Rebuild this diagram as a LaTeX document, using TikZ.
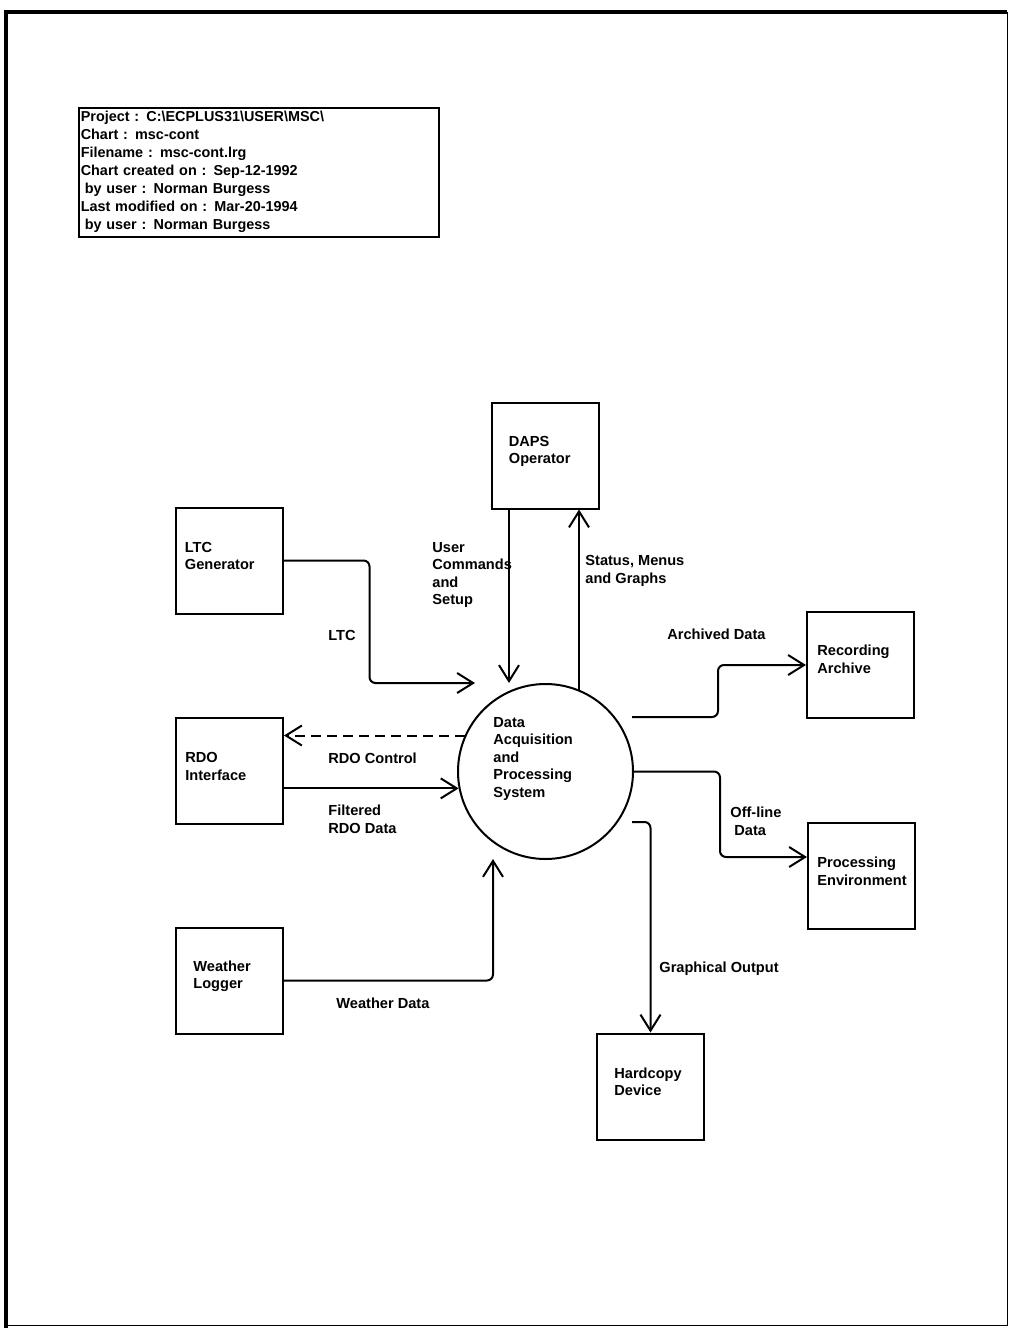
\documentclass[tikz,border=0pt]{standalone}
\usepackage{fontspec}
\setmainfont{Liberation Sans}
\usetikzlibrary{calc,positioning,arrows.meta}
\tikzstyle{ent}=[draw, line width=1pt, minimum width=53.5pt, minimum height=53pt, inner sep=0pt]
\tikzstyle{lbl}=[font=\bfseries\fontsize{7.3}{8.75}\selectfont, align=left, inner sep=0pt, anchor=north west]
\tikzstyle{flow}=[line width=1pt, rounded corners=3pt, -{Straight Barb[length=8pt,width=10pt]}]

\begin{document}
\begin{tikzpicture}[x=0.5pt,y=-0.5pt]
	\useasboundingbox (0,0) rectangle (1009,1328);
	% page frame
	\draw[line width=1.8pt] (6,1328) -- (6,12) -- (1007,12);
	\draw[line width=0.5pt] (1007,12) -- (1007,1325) -- (6,1325);
	% title block
	\node[draw, line width=0.8pt, anchor=north west, text width=178pt, minimum height=64.5pt, inner xsep=1pt, inner ysep=1pt, align=left, font=\bfseries\fontsize{7.2}{9}\selectfont] (hdr) at (78,107) {Project : C:\textbackslash ECPLUS31\textbackslash USER\textbackslash MSC\textbackslash\\Chart : msc-cont\\Filename : msc-cont.lrg\\Chart created on : Sep-12-1992\\\hspace{2pt}by user : Norman Burgess\\Last modified on : Mar-20-1994\\\hspace{2pt}by user : Norman Burgess};
	% entities
	\node[ent] (daps) at (545,455.5) {};
	\node[lbl] at ($(daps.north west)+(18,34)$) {DAPS\\Operator};
	\node[ent] (ltc) at (229,560.5) {};
	\node[lbl] at ($(ltc.north west)+(10,35)$) {LTC\\Generator};
	\node[ent] (rdo) at (229.5,771) {};
	\node[lbl] at ($(rdo.north west)+(10,35)$) {RDO\\Interface};
	\node[ent] (wthr) at (229.5,980.5) {};
	\node[lbl] at ($(wthr.north west)+(18,34)$) {Weather\\Logger};
	\node[ent] (rec) at (860.5,665) {};
	\node[lbl] at ($(rec.north west)+(11,34)$) {Recording\\Archive};
	\node[ent] (proc) at (861.5,876) {};
	\node[lbl] at ($(proc.north west)+(10,35)$) {Processing\\Environment};
	\node[ent] (hard) at (650.5,1086.5) {};
	\node[lbl] at ($(hard.north west)+(18,35)$) {Hardcopy\\Device};
	% process
	\node[draw, circle, line width=1pt, minimum size=87.5pt, inner sep=0pt] (dps) at (545.5,771.5) {};
	\node[lbl] at (493,717) {Data\\Acquisition\\and\\Processing\\System};
	% free ends
	\coordinate (ltc-in) at (475,683);
	\coordinate (uc-in) at (509,683);
	\coordinate (st-out) at (579,691);
	\coordinate (wd-in) at (493,859);
	\coordinate (ar-out) at (632,717);
	\coordinate (go-out) at (632,822);
	% flows
	\draw[flow] (ltc.east) -- ++(86,0) |- (ltc-in);
	\draw[flow] (uc-in |- daps.south) -- (uc-in);
	\draw[flow] (st-out) -- (st-out |- daps.south);
	\draw[flow, dash pattern=on 5pt off 3pt] (dps.156) -- (dps.156 -| rdo.east);
	\draw[flow] (dps.191 -| rdo.east) -- (dps.191);
	\draw[flow] (wthr.east) -| (wd-in);
	\draw[flow] (ar-out) -- ++(86,0) |- (rec.west);
	\draw[flow] (dps.east) -- ++(86,0) |- ($(proc.west)+(0,-19)$);
	\draw[flow] (go-out) -| (hard.north);
	% flow labels
	\node[lbl] at (328,630) {LTC};
	\node[lbl] at (432,542) {User\\Commands\\and\\Setup};
	\node[lbl] at (585,555) {Status, Menus\\and Graphs};
	\node[lbl] at (328,753) {RDO Control};
	\node[lbl] at (328,805) {Filtered\\RDO Data};
	\node[lbl] at (336,998) {Weather Data};
	\node[lbl] at (667,629) {Archived Data};
	\node[lbl] at (730,807) {Off-line\\\hspace{2pt}Data};
	\node[lbl] at (659,962) {Graphical Output};
\end{tikzpicture}
\end{document}
